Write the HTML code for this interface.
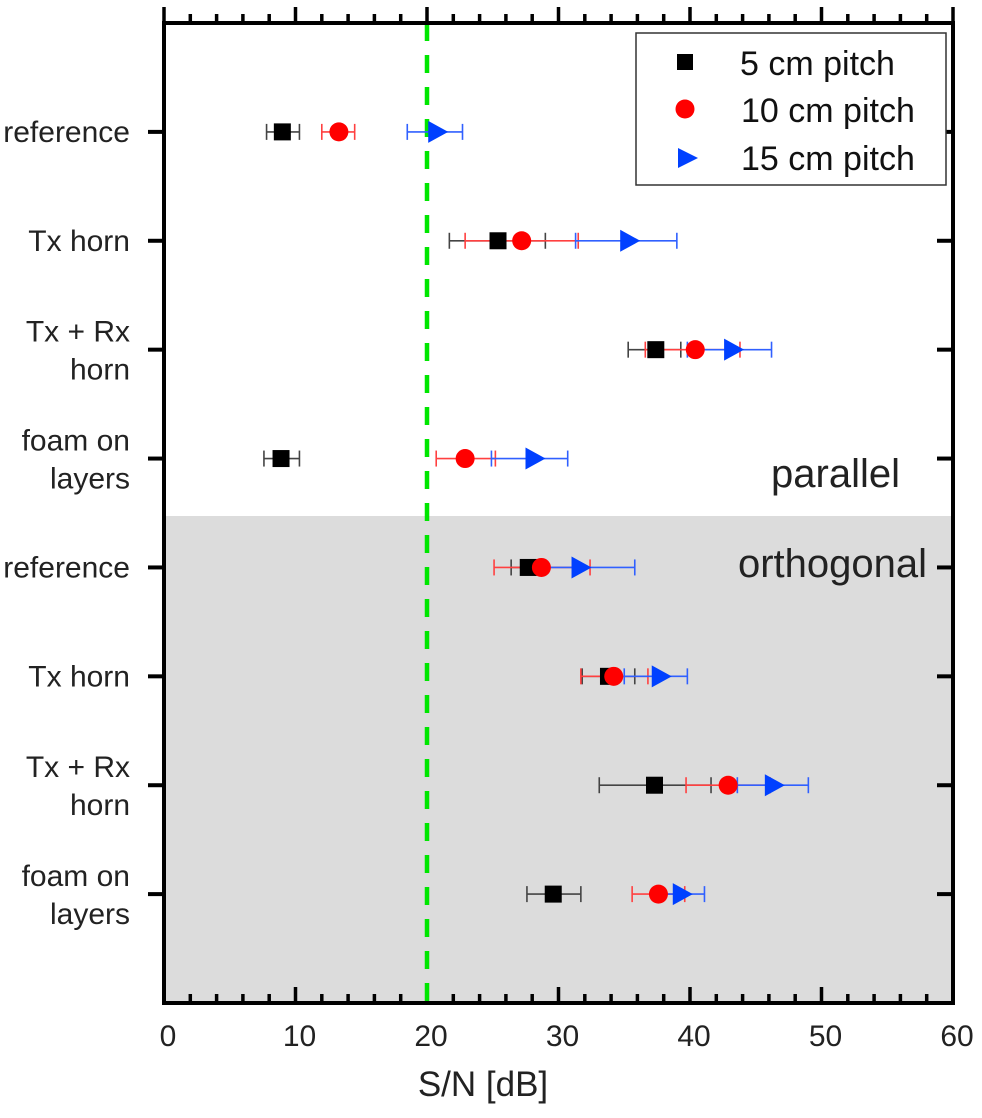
<!DOCTYPE html>
<html><head><meta charset="utf-8">
<style>
html,body{margin:0;padding:0;background:#fff;}
svg{display:block;font-family:"Liberation Sans",Arial,sans-serif;}
</style></head>
<body>
<svg id="chart" width="982" height="1118" viewBox="0 0 982 1118" xmlns="http://www.w3.org/2000/svg">
  <rect x="164" y="23" width="789" height="493" fill="#ffffff"/>
  <rect x="164" y="516" width="789" height="487" fill="#dcdcdc"/>
  <g id="ticks"></g>
  <g id="labels"></g>
  <line id="threshold" x1="0" y1="23" x2="0" y2="1003" stroke="#00e600" stroke-width="4.5" stroke-dasharray="18,14"/>
  <g id="marks"></g>
  <rect x="164" y="23" width="789" height="980" fill="none" stroke="#000" stroke-width="4"/>
  <text x="900" y="487" font-size="40" text-anchor="end" fill="#222">parallel</text>
  <text x="927" y="577" font-size="40" text-anchor="end" fill="#222">orthogonal</text>
  <text x="483" y="1096" font-size="35" text-anchor="middle" fill="#222">S/N [dB]</text>
  <g>
    <rect x="636" y="33" width="310" height="152" fill="#fff" stroke="#333" stroke-width="1.5"/>
    <rect x="677" y="54" width="16" height="16" fill="#000"/>
    <text x="740" y="75" font-size="34" fill="#111">5 cm pitch</text>
    <circle cx="685" cy="109" r="9.5" fill="#ff0000"/>
    <text x="741" y="122" font-size="34" fill="#111">10 cm pitch</text>
    <polygon points="678,148 698,158 678,168" fill="#0040ff"/>
    <text x="741" y="170" font-size="34" fill="#111">15 cm pitch</text>
  </g>
</svg>
<script>
const categories = [["reference"],["Tx horn"],["Tx + Rx","horn"],["foam on","layers"],["reference"],["Tx horn"],["Tx + Rx","horn"],["foam on","layers"]];
const xTicks = [0,10,20,30,40,50,60];
const threshold = 20;
const s5 = [9.0,25.4,37.4,8.9,27.7,33.8,37.3,29.6];
const s5lo = [7.8,21.7,35.3,7.6,26.4,31.8,33.1,27.6];
const s5hi = [10.3,29.0,39.3,10.3,29.0,35.8,41.6,31.7];
const s10 = [13.3,27.2,40.4,22.9,28.7,34.2,42.9,37.6];
const s10lo = [12.0,22.9,36.6,20.7,25.1,31.7,39.7,35.6];
const s10hi = [14.5,31.5,43.8,25.2,32.4,36.8,46.1,39.6];
const s15 = [20.7,35.3,43.2,28.1,31.6,37.7,46.3,39.3];
const s15lo = [18.5,31.3,39.8,24.9,27.7,35.0,43.6,37.5];
const s15hi = [22.7,39.0,46.2,30.7,35.8,39.8,49.0,41.1];

const NS='http://www.w3.org/2000/svg';
const X0=164, X1=953, Y0=23, Y1=1003;
function xs(v){return X0+(v-0)/60*(X1-X0);}
function ys(i){return Y0+(i+1)*(Y1-Y0)/9;}
function mk(tag,attrs,parent){const e=document.createElementNS(NS,tag);for(const k in attrs)e.setAttribute(k,attrs[k]);parent.appendChild(e);return e;}

const ticks=document.getElementById('ticks');
const labels=document.getElementById('labels');
for(let v=0;v<=60;v+=2){
  const major=v%10===0;
  const len=major?16:9;
  const x=xs(v);
  const b=mk('line',{x1:x,y1:Y1,x2:x,y2:Y1-len,stroke:'#000','stroke-width':3.5},ticks);
  
  
  const t=mk('line',{x1:x,y1:Y0,x2:x,y2:Y0-len,stroke:'#000','stroke-width':3.5},ticks);
  
  
}
xTicks.forEach(v=>{
  const t=mk('text',{x:xs(v)+4,y:1046,'font-size':30,'text-anchor':'middle',fill:'#222'},labels);
  t.textContent=v;
  
  
});
categories.forEach((c,i)=>{
  const y=ys(i);
  const l=mk('line',{x1:X0-16,y1:y,x2:X0,y2:y,stroke:'#000','stroke-width':4},ticks);
  
  
  const r=mk('line',{x1:X1-16,y1:y,x2:X1,y2:y,stroke:'#000','stroke-width':4},ticks);
  
  
  const t=mk('text',{x:130,'font-size':30,'text-anchor':'end',fill:'#222'},labels);
  
  
  if(c.length===1){t.setAttribute('y',y+10);t.textContent=c[0];}
  else{
    c.forEach((s,k)=>{const sp=mk('tspan',{x:130,y:y-8+k*38},t);sp.textContent=s;});
  }
});
const th=document.getElementById('threshold');
th.setAttribute('x1',xs(threshold));th.setAttribute('x2',xs(threshold));

const marks=document.getElementById('marks');
const series=[
  {v:s5,lo:s5lo,hi:s5hi,color:'#000',err:'#444',shape:'square',name:'5cm'},
  {v:s10,lo:s10lo,hi:s10hi,color:'#ff0000',err:'#ff4040',shape:'circle',name:'10cm'},
  {v:s15,lo:s15lo,hi:s15hi,color:'#0040ff',err:'#3060ff',shape:'triangle',name:'15cm'}
];
series.forEach(s=>{
  s.v.forEach((v,i)=>{
    const y=ys(i);
    const g=mk('g',{},marks);
    
    
    mk('line',{x1:xs(s.lo[i]),y1:y,x2:xs(s.hi[i]),y2:y,stroke:s.err,'stroke-width':1.6},g);
    mk('line',{x1:xs(s.lo[i]),y1:y-8,x2:xs(s.lo[i]),y2:y+8,stroke:s.err,'stroke-width':1.6},g);
    mk('line',{x1:xs(s.hi[i]),y1:y-8,x2:xs(s.hi[i]),y2:y+8,stroke:s.err,'stroke-width':1.6},g);
  });
});
series.forEach(s=>{
  s.v.forEach((v,i)=>{
    const x=xs(v),y=ys(i);let m;
    if(s.shape==='square')m=mk('rect',{x:x-8.5,y:y-8.5,width:17,height:17,fill:s.color},marks);
    else if(s.shape==='circle')m=mk('circle',{cx:x,cy:y,r:9.5,fill:s.color},marks);
    else m=mk('polygon',{points:(x-8)+','+(y-11)+' '+(x+12)+','+y+' '+(x-8)+','+(y+11),fill:s.color},marks);
    
    
  });
});
</script>
</body></html>
